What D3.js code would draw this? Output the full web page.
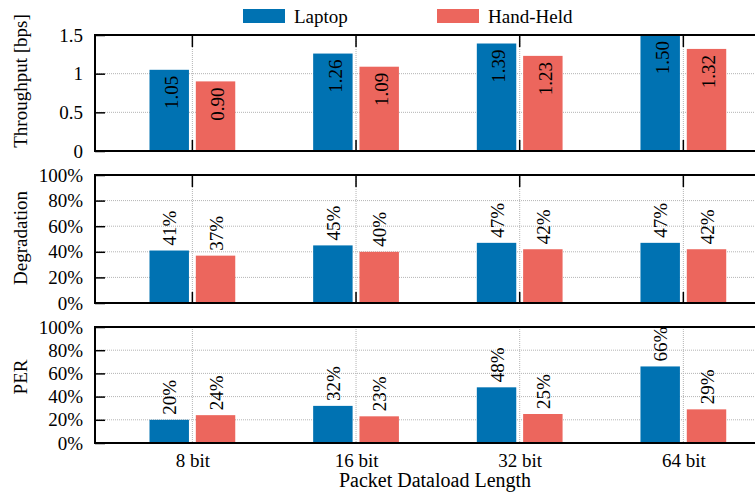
<!DOCTYPE html>
<html>
<head>
<meta charset="utf-8">
<script src="https://cdn.jsdelivr.net/npm/d3@7/dist/d3.min.js"></script>
<style>
  html, body { margin: 0; padding: 0; background: #fff; }
  svg { display: block; }
  svg text { font-family: "Liberation Serif", "Times New Roman", serif; fill: #000; }
</style>
</head>
<body>
<svg id="chart" width="755" height="493" font-family="Liberation Serif, serif"></svg>
<script>
// Packet payload sizes on the x axis
const categories = ["8 bit", "16 bit", "32 bit", "64 bit"];
const seriesNames = ["Laptop", "Hand-Held"];
const seriesColors = ["#0072b2", "#ec665d"];

// Throughput in bps
const throughputLaptop = [1.05, 1.26, 1.39, 1.50];
const throughputHandHeld = [0.90, 1.09, 1.23, 1.32];
// Degradation in percent
const degradationLaptop = [41, 45, 47, 47];
const degradationHandHeld = [37, 40, 42, 42];
// Packet error rate in percent
const perLaptop = [20, 32, 48, 66];
const perHandHeld = [24, 23, 25, 29];

// Axis ticks
const throughputTicks = [0, 0.5, 1, 1.5];
const throughputTickLabels = ["0", "0.5", "1", "1.5"];
const percentTicks = [0, 20, 40, 60, 80, 100];
const percentTickLabels = ["0%", "20%", "40%", "60%", "80%", "100%"];

const svg = d3.select("#chart");
const FONT = 19;
const FAMILY = "Liberation Serif, serif";
const left = 95, right = 775;

const x = d3.scaleLinear().domain([-0.595, 3.56]).range([left, right]);
const barW = 0.241;   // bar width in category units
const barGap = 0.021; // half gap around the category line

const panels = [
  { title: "Throughput [bps]", top: 35, bottom: 151, max: 1.5,
    ticks: throughputTicks, tickLabels: throughputTickLabels,
    series: [throughputLaptop, throughputHandHeld],
    fmt: d3.format(".2f"), inside: true, xTicks: true, titleY: 81 },
  { title: "Degradation", top: 175, bottom: 303, max: 100,
    ticks: percentTicks, tickLabels: percentTickLabels,
    series: [degradationLaptop, degradationHandHeld],
    fmt: v => v + "%", inside: false, xTicks: true, titleY: 238 },
  { title: "PER", top: 327, bottom: 443, max: 100,
    ticks: percentTicks, tickLabels: percentTickLabels,
    series: [perLaptop, perHandHeld],
    fmt: v => v + "%", inside: false, xTicks: false, titleY: 377 }
];

panels.forEach(p => {
  const y = d3.scaleLinear().domain([0, p.max]).range([p.bottom, p.top]);
  const g = svg.append("g");

  // dotted grid
  g.selectAll("line.hgrid")
    .data(p.ticks.filter(t => t > 0 && t < p.max))
    .join("line")
    .attr("x1", left).attr("x2", right)
    .attr("y1", d => y(d)).attr("y2", d => y(d))
    .attr("stroke", "#b4b4b4").attr("stroke-width", 1)
    .attr("stroke-dasharray", "1,1");
  g.selectAll("line.vgrid")
    .data(categories)
    .join("line")
    .attr("x1", (d, i) => x(i)).attr("x2", (d, i) => x(i))
    .attr("y1", p.top).attr("y2", p.bottom)
    .attr("stroke", "#b4b4b4").attr("stroke-width", 1)
    .attr("stroke-dasharray", "1,1");

  // bars
  p.series.forEach((vals, s) => {
    const x0 = i => s === 0 ? x(i - barGap - barW) : x(i + barGap);
    g.selectAll(null)
      .data(vals)
      .join("rect")
      .attr("x", (d, i) => x0(i))
      .attr("width", x(barW) - x(0))
      .attr("y", d => y(d))
      .attr("height", d => p.bottom - y(d))
      .attr("fill", seriesColors[s]);

    // value labels, rotated
    g.selectAll(null)
      .data(vals)
      .join("text")
      .attr("transform", (d, i) => {
        const cx = x0(i) + (x(barW) - x(0)) / 2;
        return p.inside
          ? `translate(${cx + 2},${y(d) + 6}) rotate(-90)`
          : `translate(${cx + 0.5},${y(d) - 5}) rotate(-90)`;
      })
      .attr("text-anchor", p.inside ? "end" : "start")
      .attr("dy", "0.35em")
      .attr("font-family", FAMILY)
      .attr("font-size", FONT)
      .text(d => p.fmt(d));
  });

  // y axis with inward ticks
  const yAxis = d3.axisLeft(y)
    .tickValues(p.ticks)
    .tickFormat((d, i) => p.tickLabels[i])
    .tickSize(-10)
    .tickPadding(12);
  const ya = g.append("g").attr("transform", `translate(${left},0)`).call(yAxis)
    .attr("font-family", FAMILY);
  ya.select(".domain").remove();
  ya.selectAll(".tick line").attr("stroke", "#000").attr("stroke-width", 1.5);
  ya.selectAll(".tick text")
    .attr("font-size", FONT)
    .attr("font-family", FAMILY)
    .attr("fill", "#000");

  // category ticks at top and bottom edges
  if (p.xTicks) {
    categories.forEach((c, i) => {
      g.append("line").attr("x1", x(i)).attr("x2", x(i))
        .attr("y1", p.top).attr("y2", p.top + 12)
        .attr("stroke", "#000").attr("stroke-width", 1.5);
      g.append("line").attr("x1", x(i)).attr("x2", x(i))
        .attr("y1", p.bottom).attr("y2", p.bottom - 11)
        .attr("stroke", "#000").attr("stroke-width", 1.5);
    });
  }

  // frame
  g.append("path")
    .attr("d", `M${right},${p.top}H${left}V${p.bottom}H${right}`)
    .attr("fill", "none").attr("stroke", "#000").attr("stroke-width", 2);

  // y title
  g.append("text")
    .attr("transform", `translate(20,${p.titleY}) rotate(-90)`)
    .attr("text-anchor", "middle")
    .attr("dy", "0.35em")
    .attr("font-family", FAMILY)
    .attr("font-size", FONT)
    .text(p.title);
});

// category labels under the bottom panel
const xAxis = d3.axisBottom(x)
  .tickValues(d3.range(categories.length))
  .tickFormat(i => categories[i])
  .tickSize(0)
  .tickPadding(0);
const xa = svg.append("g").attr("transform", "translate(0,453)").call(xAxis)
  .attr("font-family", FAMILY);
xa.select(".domain").remove();
xa.selectAll(".tick text")
  .attr("font-size", FONT)
  .attr("font-family", FAMILY)
  .attr("fill", "#000")
  .attr("dy", "0.71em");

svg.append("text")
  .attr("x", 435).attr("y", 487)
  .attr("text-anchor", "middle")
  .attr("font-family", FAMILY)
  .attr("font-size", 20)
  .text("Packet Dataload Length");

// legend
const legendX = [243, 437];
seriesNames.forEach((name, i) => {
  svg.append("rect")
    .attr("x", legendX[i]).attr("y", 9)
    .attr("width", 42).attr("height", 14)
    .attr("fill", seriesColors[i]);
  svg.append("text")
    .attr("x", legendX[i] + 51).attr("y", 23)
    .attr("font-family", FAMILY)
    .attr("font-size", FONT)
    .text(name);
});
</script>
</body>
</html>
